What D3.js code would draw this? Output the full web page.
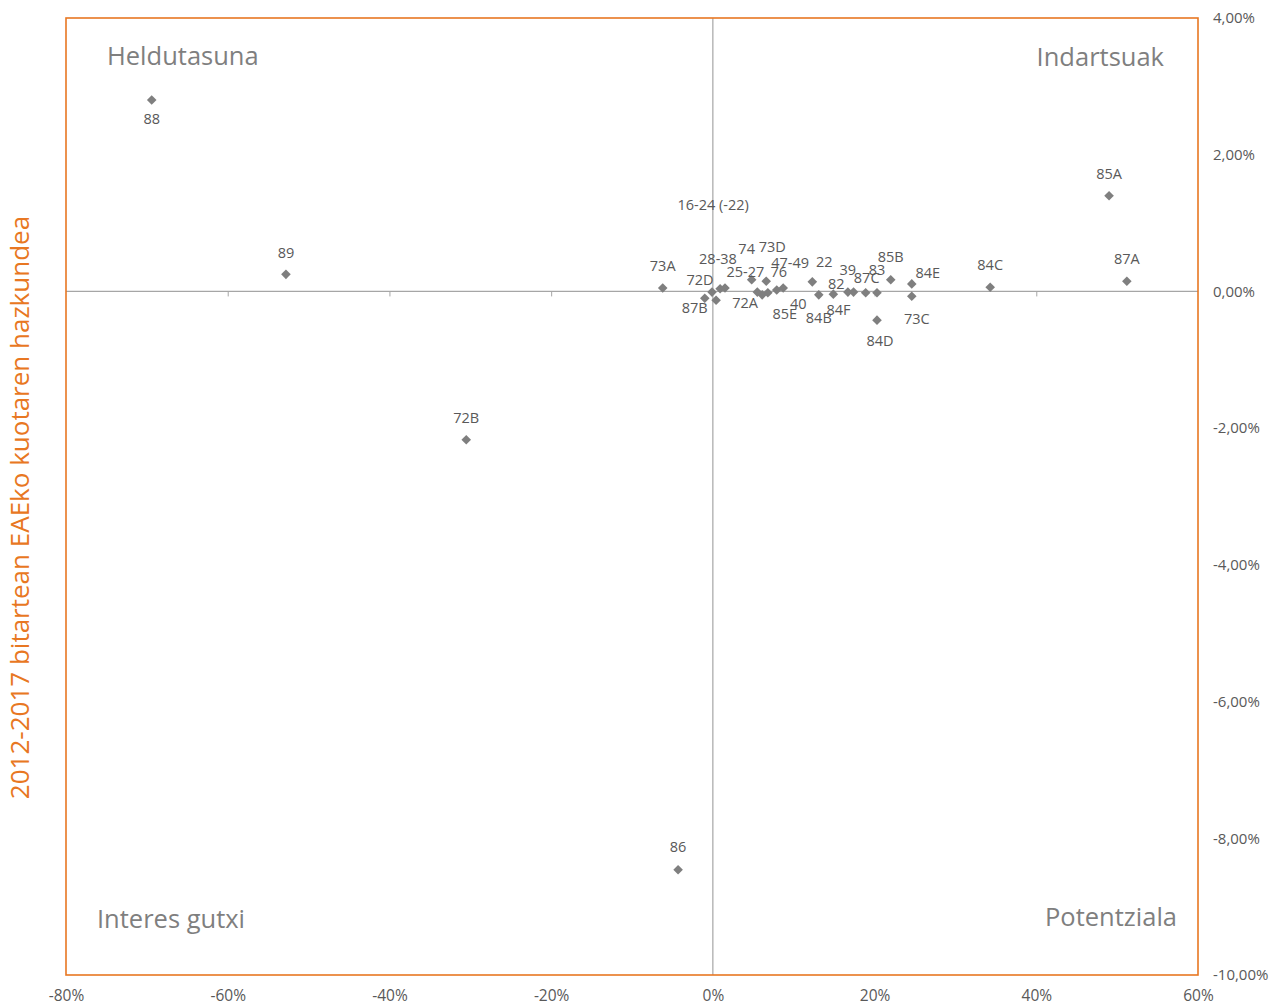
<!DOCTYPE html>
<html><head><meta charset="utf-8">
<script src="https://cdn.jsdelivr.net/npm/d3@7"></script>
<style>
html,body{margin:0;padding:0;background:#fff;}
svg{display:block;font-family:"Open Sans", sans-serif;}
</style></head>
<body><svg id="c" width="1272" height="1006"></svg>
<script>
// ---- data ----
const labels = ["88","89","72B","86","85A","87A","84C","73A","87B","72D","72A","16-24 (-22)","28-38","74","73D","25-27","40","85E","76","47-49","22","84B","82","84F","39","87C","83","85B","84E","73C","84D"];
const xValues = [-69.4,-52.8,-30.5,-4.3,49.0,51.2,34.3,-6.2,-1.0,-0.1,0.4,0.9,1.5,4.8,6.6,5.5,6.1,6.8,7.9,8.7,12.3,13.1,14.9,17.4,16.7,18.9,20.3,22.0,24.6,24.6,20.3];
const yValues = [2.80,0.25,-2.17,-8.46,1.40,0.15,0.06,0.05,-0.10,-0.01,-0.13,0.04,0.05,0.17,0.15,-0.01,-0.05,-0.02,0.02,0.05,0.14,-0.05,-0.04,-0.01,-0.01,-0.02,-0.02,0.17,0.11,-0.07,-0.42];
const xTicks = [-80,-60,-40,-20,0,20,40,60];
const yTicks = [4,2,0,-2,-4,-6,-8,-10];
const quadrants = ["Heldutasuna","Indartsuak","Interes gutxi","Potentziala"];
const yTitle = "2012-2017 bitartean EAEko kuotaren hazkundea";

// label offsets (px) relative to the marker, as placed in the reference
const labelOffsets = {
 "88":[0,18],"89":[0,-22],"72B":[0,-22],"86":[0,-23],"85A":[0,-22],"87A":[0,-23],"84C":[0,-23],"73A":[0,-23],
 "87B":[-10,9],"72D":[-12,-13],"72A":[29,2],"16-24 (-22)":[-7,-84],"28-38":[-7,-30],"74":[-5,-31],"73D":[6,-35],
 "25-27":[-12,-21],"40":[36,9],"85E":[17,21],"76":[2,-19],"47-49":[7,-26],"22":[12,-20],"84B":[0,23],"82":[3,-11],
 "84F":[-15,17],"39":[0,-23],"87C":[1,-15],"83":[0,-23],"85B":[0,-23],"84E":[16,-11],"73C":[5,22],"84D":[3,20]
};

const points = labels.map((l,i)=>({label:l,x:xValues[i],y:yValues[i]}));

const locale = d3.formatLocale({decimal:",",thousands:".",grouping:[3],currency:["","€"],minus:"-"});
const fmtY = v => locale.format(".2f")(v) + "%";
const fmtX = v => locale.format("d")(v) + "%";

const svg = d3.select("#c");
const L=66,R=1198,T=18,B=975;
const x = d3.scaleLinear().domain([-80,60]).range([L,R]);
const y = d3.scaleLinear().domain([-10,4]).range([B,T]);

const gray="#7f7f7f", orange="#E87722", txt="#595959";
const FONT = "'Open Sans', sans-serif";

// zero lines
svg.append("line").attr("x1",x(0)).attr("x2",x(0)).attr("y1",T).attr("y2",B)
  .attr("stroke","#a6a6a6").attr("stroke-width",1.2);
const zx = svg.append("g").attr("transform",`translate(0,${y(0)})`)
  .call(d3.axisBottom(x).tickValues(xTicks.filter(t=>t!==-80&&t!==60&&t!==0)).tickSize(5).tickFormat(""));
zx.select(".domain").remove();
zx.selectAll("line").attr("stroke","#a6a6a6");
svg.append("line").attr("x1",L).attr("x2",R).attr("y1",y(0)).attr("y2",y(0))
  .attr("stroke","#a6a6a6").attr("stroke-width",1.2);

// bottom tick labels
const bx = svg.append("g").attr("transform",`translate(0,${B})`)
  .call(d3.axisBottom(x).tickValues(xTicks).tickSize(0).tickPadding(15).tickFormat(fmtX));
bx.select(".domain").remove();
bx.selectAll("text").attr("fill",txt).attr("font-size",15.5).attr("font-family",FONT);

// right tick labels
const ry = svg.append("g").attr("transform",`translate(${R},0)`)
  .call(d3.axisRight(y).tickValues(yTicks).tickSize(0).tickPadding(15).tickFormat(fmtY));
ry.select(".domain").remove();
ry.selectAll("text").attr("fill",txt).attr("font-size",15).attr("font-family",FONT);

// plot frame
svg.append("rect").attr("x",L).attr("y",T).attr("width",R-L).attr("height",B-T)
  .attr("fill","none").attr("stroke",orange).attr("stroke-width",1.6);

// y title
svg.append("text").attr("transform",`translate(29,${(T+B)/2+11}) rotate(-90)`)
  .attr("text-anchor","middle").attr("fill",orange).attr("font-size",26)
  .attr("font-family",FONT).text(yTitle);

// quadrant labels
const qpos = [[107,55,"start"],[1164,56,"end"],[97,918,"start"],[1177,916,"end"]];
svg.selectAll("text.q").data(quadrants).join("text").attr("class","q")
  .attr("x",(d,i)=>qpos[i][0]).attr("y",(d,i)=>qpos[i][1]).attr("text-anchor",(d,i)=>qpos[i][2])
  .attr("dominant-baseline","central").attr("fill",gray).attr("font-size",25.5)
  .attr("font-family",FONT).text(d=>d);

// markers
const sym = d3.symbol().type(d3.symbolSquare).size(46);
svg.selectAll("path.pt").data(points).join("path").attr("class","pt")
  .attr("d",sym).attr("fill",gray)
  .attr("transform",d=>`translate(${x(d.x)},${y(d.y)}) rotate(45)`);

// labels
svg.selectAll("text.lbl").data(points).join("text").attr("class","lbl")
  .attr("x",d=>x(d.x)+labelOffsets[d.label][0])
  .attr("y",d=>y(d.y)+labelOffsets[d.label][1])
  .attr("text-anchor","middle").attr("dominant-baseline","central")
  .attr("fill",txt).attr("font-size",14.5).attr("font-family",FONT)
  .text(d=>d.label);
</script></body></html>
